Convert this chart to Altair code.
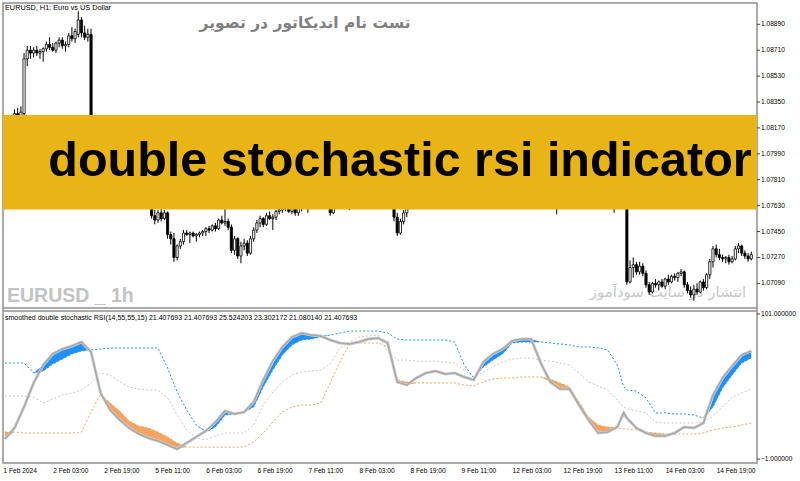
import json
import altair as alt
import pandas as pd
import numpy as np

# ---------------- price candles (EURUSD H1) ----------------
OPEN = [1.0818,1.0820,1.0822,1.0824,1.0827,1.0825,1.0827,1.0865,1.0871,1.0869,
 1.0871,1.0869,1.0870,1.0872,1.0875,1.0873,1.0871,1.0876,1.0878,1.0874,
 1.0875,1.0881,1.0879,1.0882,1.0892,1.0883,1.0880,1.0882,1.0812,1.0810,
 1.0806,1.0803,1.0800,1.0802,1.0799,1.0795,1.0792,1.0794,1.0790,1.0787,
 1.0785,1.0782,1.0780,1.0778,1.0775,1.0772,1.0768,1.0756,1.0753,1.0758,
 1.0754,1.0758,1.0743,1.0740,1.0727,1.0735,1.0738,1.0744,1.0743,1.0744,
 1.0742,1.0743,1.0744,1.0745,1.0747,1.0746,1.0749,1.0747,1.0753,1.0751,
 1.0752,1.0748,1.0732,1.0740,1.0728,1.0735,1.0737,1.0730,1.0740,1.0746,
 1.0751,1.0754,1.0750,1.0756,1.0754,1.0755,1.0759,1.0760,1.0761,1.0762,
 1.0759,1.0761,1.0758,1.0762,1.0764,1.0766,1.0765,1.0768,1.0770,1.0767,
 1.0769,1.0766,1.0764,1.0758,1.0762,1.0766,1.0768,1.0765,1.0767,1.0766,
 1.0769,1.0772,1.0774,1.0773,1.0775,1.0777,1.0774,1.0776,1.0778,1.0775,
 1.0772,1.0768,1.0765,1.0755,1.0744,1.0752,1.0758,1.0762,1.0765,1.0767,
 1.0766,1.0770,1.0772,1.0771,1.0773,1.0775,1.0774,1.0772,1.0774,1.0776,
 1.0775,1.0773,1.0771,1.0770,1.0772,1.0775,1.0779,1.0781,1.0783,1.0782,
 1.0785,1.0787,1.0789,1.0788,1.0791,1.0793,1.0792,1.0794,1.0793,1.0795,
 1.0794,1.0791,1.0788,1.0785,1.0782,1.0780,1.0781,1.0777,1.0774,1.0771,
 1.0772,1.0768,1.0766,1.0764,1.0762,1.0765,1.0763,1.0766,1.0764,1.0765,
 1.0767,1.0765,1.0763,1.0764,1.0766,1.0769,1.0772,1.0770,1.0771,1.0769,
 1.0767,1.0765,1.0763,1.0766,1.0768,1.0766,1.0710,1.0720,1.0722,1.0717,
 1.0721,1.0716,1.0708,1.0703,1.0709,1.0708,1.0710,1.0707,1.0712,1.0710,
 1.0714,1.0713,1.0716,1.0717,1.0708,1.0704,1.0701,1.0705,1.0703,1.0710,
 1.0706,1.0715,1.0724,1.0733,1.0729,1.0727,1.0726,1.0727,1.0724,1.0726,
 1.0733,1.0735,1.0730,1.0728,1.0726]
HIGH = [1.0822,1.0824,1.0825,1.0830,1.0831,1.0832,1.0869,1.0874,1.0874,1.0873,
 1.0874,1.0872,1.0873,1.0877,1.0880,1.0876,1.0877,1.0880,1.0880,1.0877,
 1.0883,1.0887,1.0886,1.0898,1.0894,1.0888,1.0886,1.0886,1.0820,1.0814,
 1.0810,1.0807,1.0805,1.0806,1.0803,1.0799,1.0797,1.0798,1.0794,1.0791,
 1.0789,1.0786,1.0784,1.0782,1.0779,1.0776,1.0770,1.0760,1.0760,1.0761,
 1.0760,1.0759,1.0745,1.0744,1.0736,1.0740,1.0746,1.0746,1.0745,1.0745,
 1.0744,1.0745,1.0746,1.0748,1.0749,1.0750,1.0751,1.0754,1.0756,1.0764,
 1.0754,1.0750,1.0742,1.0741,1.0738,1.0740,1.0739,1.0742,1.0748,1.0753,
 1.0756,1.0755,1.0758,1.0759,1.0757,1.0760,1.0762,1.0763,1.0764,1.0763,
 1.0762,1.0763,1.0763,1.0766,1.0768,1.0769,1.0770,1.0772,1.0774,1.0771,
 1.0772,1.0769,1.0766,1.0763,1.0768,1.0770,1.0772,1.0769,1.0770,1.0771,
 1.0774,1.0776,1.0778,1.0777,1.0779,1.0780,1.0778,1.0780,1.0781,1.0778,
 1.0775,1.0771,1.0767,1.0758,1.0754,1.0760,1.0764,1.0766,1.0769,1.0770,
 1.0771,1.0774,1.0775,1.0774,1.0777,1.0778,1.0777,1.0775,1.0778,1.0779,
 1.0778,1.0776,1.0774,1.0773,1.0776,1.0780,1.0783,1.0785,1.0786,1.0786,
 1.0789,1.0791,1.0792,1.0792,1.0795,1.0796,1.0795,1.0797,1.0796,1.0798,
 1.0797,1.0794,1.0791,1.0788,1.0785,1.0783,1.0783,1.0780,1.0777,1.0774,
 1.0774,1.0771,1.0769,1.0767,1.0766,1.0768,1.0767,1.0769,1.0767,1.0768,
 1.0770,1.0768,1.0766,1.0767,1.0770,1.0773,1.0775,1.0773,1.0774,1.0772,
 1.0770,1.0768,1.0767,1.0770,1.0772,1.0768,1.0725,1.0727,1.0724,1.0724,
 1.0723,1.0718,1.0710,1.0710,1.0712,1.0711,1.0712,1.0713,1.0715,1.0715,
 1.0716,1.0717,1.0719,1.0718,1.0710,1.0707,1.0708,1.0709,1.0711,1.0712,
 1.0716,1.0726,1.0735,1.0736,1.0733,1.0729,1.0728,1.0729,1.0728,1.0735,
 1.0737,1.0736,1.0732,1.0730,1.0731]
LOW = [1.0814,1.0817,1.0819,1.0821,1.0823,1.0822,1.0821,1.0860,1.0865,1.0866,
 1.0867,1.0865,1.0863,1.0870,1.0871,1.0870,1.0869,1.0873,1.0872,1.0870,
 1.0873,1.0877,1.0876,1.0880,1.0880,1.0878,1.0877,1.0810,1.0808,1.0804,
 1.0800,1.0798,1.0796,1.0797,1.0793,1.0790,1.0789,1.0788,1.0785,1.0782,
 1.0780,1.0777,1.0775,1.0773,1.0770,1.0766,1.0754,1.0750,1.0751,1.0752,
 1.0753,1.0740,1.0736,1.0724,1.0725,1.0733,1.0736,1.0742,1.0737,1.0741,
 1.0738,1.0741,1.0742,1.0742,1.0744,1.0745,1.0745,1.0746,1.0750,1.0749,
 1.0746,1.0730,1.0729,1.0726,1.0723,1.0732,1.0728,1.0729,1.0738,1.0744,
 1.0748,1.0748,1.0749,1.0753,1.0746,1.0753,1.0757,1.0758,1.0759,1.0758,
 1.0757,1.0756,1.0756,1.0759,1.0762,1.0758,1.0763,1.0765,1.0766,1.0763,
 1.0764,1.0762,1.0756,1.0757,1.0761,1.0763,1.0764,1.0761,1.0760,1.0764,
 1.0767,1.0769,1.0771,1.0770,1.0772,1.0773,1.0771,1.0773,1.0774,1.0770,
 1.0766,1.0763,1.0752,1.0742,1.0743,1.0750,1.0755,1.0761,1.0763,1.0764,
 1.0765,1.0768,1.0769,1.0768,1.0771,1.0772,1.0770,1.0769,1.0772,1.0773,
 1.0771,1.0770,1.0768,1.0767,1.0770,1.0773,1.0777,1.0779,1.0780,1.0780,
 1.0783,1.0785,1.0786,1.0786,1.0789,1.0790,1.0789,1.0791,1.0790,1.0792,
 1.0790,1.0787,1.0784,1.0781,1.0778,1.0777,1.0776,1.0773,1.0770,1.0768,
 1.0767,1.0765,1.0763,1.0757,1.0761,1.0762,1.0761,1.0763,1.0762,1.0763,
 1.0764,1.0762,1.0761,1.0762,1.0764,1.0767,1.0769,1.0767,1.0768,1.0766,
 1.0764,1.0758,1.0762,1.0764,1.0765,1.0708,1.0709,1.0713,1.0715,1.0715,
 1.0714,1.0706,1.0701,1.0702,1.0706,1.0704,1.0706,1.0705,1.0708,1.0709,
 1.0711,1.0710,1.0714,1.0706,1.0702,1.0699,1.0697,1.0701,1.0702,1.0704,
 1.0705,1.0712,1.0720,1.0727,1.0725,1.0724,1.0723,1.0722,1.0723,1.0725,
 1.0730,1.0728,1.0726,1.0724,1.0725]
CLOSE = [1.0820,1.0822,1.0824,1.0827,1.0825,1.0828,1.0865,1.0871,1.0869,1.0871,
 1.0869,1.0870,1.0872,1.0875,1.0873,1.0871,1.0876,1.0878,1.0874,1.0875,
 1.0881,1.0879,1.0884,1.0892,1.0883,1.0880,1.0882,1.0812,1.0810,1.0806,
 1.0803,1.0800,1.0802,1.0799,1.0795,1.0792,1.0794,1.0790,1.0787,1.0785,
 1.0782,1.0780,1.0778,1.0775,1.0772,1.0768,1.0756,1.0753,1.0758,1.0754,
 1.0758,1.0743,1.0740,1.0727,1.0735,1.0738,1.0744,1.0743,1.0744,1.0742,
 1.0743,1.0744,1.0745,1.0747,1.0746,1.0749,1.0747,1.0753,1.0751,1.0752,
 1.0748,1.0732,1.0740,1.0728,1.0735,1.0737,1.0730,1.0740,1.0746,1.0751,
 1.0754,1.0750,1.0756,1.0754,1.0755,1.0759,1.0760,1.0761,1.0762,1.0759,
 1.0761,1.0758,1.0762,1.0764,1.0766,1.0765,1.0768,1.0770,1.0767,1.0769,
 1.0766,1.0764,1.0758,1.0762,1.0766,1.0768,1.0765,1.0767,1.0766,1.0769,
 1.0772,1.0774,1.0773,1.0775,1.0777,1.0774,1.0776,1.0778,1.0775,1.0772,
 1.0768,1.0765,1.0755,1.0744,1.0752,1.0758,1.0762,1.0765,1.0767,1.0766,
 1.0770,1.0772,1.0771,1.0773,1.0775,1.0774,1.0772,1.0774,1.0776,1.0775,
 1.0773,1.0771,1.0770,1.0772,1.0775,1.0779,1.0781,1.0783,1.0782,1.0785,
 1.0787,1.0789,1.0788,1.0791,1.0793,1.0792,1.0794,1.0793,1.0795,1.0794,
 1.0791,1.0788,1.0785,1.0782,1.0780,1.0781,1.0777,1.0774,1.0771,1.0772,
 1.0768,1.0766,1.0764,1.0762,1.0765,1.0763,1.0766,1.0764,1.0765,1.0767,
 1.0765,1.0763,1.0764,1.0766,1.0769,1.0772,1.0770,1.0771,1.0769,1.0767,
 1.0765,1.0763,1.0766,1.0768,1.0766,1.0710,1.0720,1.0722,1.0717,1.0721,
 1.0716,1.0708,1.0703,1.0709,1.0708,1.0710,1.0707,1.0712,1.0710,1.0714,
 1.0713,1.0716,1.0717,1.0708,1.0704,1.0701,1.0705,1.0703,1.0710,1.0706,
 1.0715,1.0724,1.0733,1.0729,1.0727,1.0726,1.0727,1.0724,1.0726,1.0733,
 1.0735,1.0730,1.0728,1.0726,1.0729]
BAR = list(range(len(CLOSE)))

# ---------------- indicator: smoothed double stochastic RSI ----------------
IND_BAR = [0,3,6,9,12,15,18,21,24,27,30,33,36,39,42,45,48,51,54,57,60,63,66,69,72,75,78,
           81,84,87,90,93,96,99,102,105,108,111,114,117,120,123,126,129,132,135,138,141,
           144,147,150,153,156,159,162,165,168,171,174,177,180,183,186,189,192,194,195,
           198,201,204,207,210,213,216,219,222,225,228,231,234]
MAIN = [13.1,20.8,35.6,52.5,65.1,72.9,76.4,78.5,81.3,74.3,45.4,33.5,26.4,20.8,16.6,13.8,11.7,
        8.9,6.0,10.3,14.5,18.7,25.0,32.8,30.7,32.1,39.1,54.6,67.9,77.8,84.8,87.6,86.2,85.5,
        82.7,80.6,79.9,81.3,83.4,84.1,80.6,53.2,51.1,56.0,59.5,60.9,58.8,59.5,56.7,54.6,67.2,
        72.9,76.4,82.0,83.4,83.4,66.5,53.2,48.2,48.2,37.0,26.4,17.3,18.0,21.5,31.4,27.8,20.8,
        17.3,15.2,15.2,17.3,21.5,20.8,24.3,44.0,56.0,64.4,72.2,75.0]
UPPER = [66.5,66.5,66.5,59.5,60.9,65.8,69.3,72.9,75.0,75.7,76.4,77.1,77.1,77.1,77.1,77.1,77.1,
         63.0,46.1,33.5,22.9,18.0,21.5,30.0,30.7,32.1,35.6,49.7,61.6,72.2,79.2,82.7,83.4,84.8,
         86.2,87.6,89.0,89.0,89.0,89.0,87.6,83.4,82.7,82.7,82.7,82.7,82.7,81.3,65.1,56.0,63.7,
         68.6,72.9,80.6,81.3,81.3,81.3,80.6,79.9,79.2,77.8,77.8,77.1,75.7,65.1,49.7,47.5,46.8,
         41.9,31.4,31.4,30.7,30.7,30.0,27.8,35.6,49.0,58.1,66.5,70.1]
MIDDLE = [43.3,43.3,43.3,42.6,38.4,41.2,44.0,45.4,47.5,52.5,59.5,58.1,53.2,49.7,48.2,47.5,47.5,
          41.9,30.0,19.4,13.8,12.4,15.2,17.3,17.3,17.3,22.9,37.0,46.1,53.2,58.1,60.2,60.9,61.6,
          65.8,77.1,81.3,84.8,85.5,86.2,74.5,68.6,68.6,67.9,67.9,67.9,67.2,66.5,61.6,56.7,60.2,
          63.7,67.2,69.3,70.1,70.1,68.6,67.9,66.5,65.1,59.5,53.2,50.4,47.5,40.5,35.6,34.2,32.8,
          31.4,25.0,24.3,24.3,24.3,24.3,25.0,29.3,35.6,42.6,45.4,48.2]
LOWER = [18.0,18.0,17.3,17.3,17.3,17.3,17.3,17.3,18.0,32.1,44.7,38.4,32.8,25.7,22.2,20.8,18.0,
         14.5,10.3,7.4,7.4,7.4,7.4,7.4,7.4,7.4,11.0,17.3,25.0,32.1,35.6,37.0,37.0,38.4,52.5,67.2,
         79.9,80.6,80.6,80.6,78.0,54.6,53.2,52.5,52.5,52.5,52.5,52.5,51.1,50.4,53.2,55.3,56.0,
         56.0,56.7,56.7,56.7,55.3,52.5,49.7,39.1,28.5,22.9,21.5,20.8,20.1,20.1,19.4,18.0,17.3,
         16.6,16.6,16.6,16.6,17.3,19.4,20.8,21.5,22.9,24.3]

# ---------------- axes / texts ----------------
TIME_TICKS = [-0.6, 15, 31, 47, 63, 79, 95, 111, 127, 143, 159, 175, 191, 207, 223]
TIME_LABELS = ["1 Feb 2024", "2 Feb 03:00", "2 Feb 19:00", "5 Feb 11:00", "6 Feb 03:00",
               "6 Feb 19:00", "7 Feb 11:00", "8 Feb 03:00", "8 Feb 19:00", "9 Feb 11:00",
               "12 Feb 03:00", "12 Feb 19:00", "13 Feb 11:00", "14 Feb 03:00", "14 Feb 19:00"]
PRICE_TICKS = [1.0709, 1.0727, 1.0745, 1.0763, 1.0781, 1.0799, 1.0817, 1.0835, 1.0853, 1.0871, 1.0889]
IND_TICKS = [101, -1]

TITLE_MAIN = "EURUSD, H1:  Euro vs US Dollar"
TITLE_FA = "تست نام اندیکاتور در تصویر"
BANNER = "double stochastic rsi indicator"
WM_LEFT = "EURUSD _ 1h"
WM_RIGHT = "انتشار در سایت سودآموز"
IND_TITLE = ("smoothed double stochastic RSI(14,55,55,15) 21.407693 21.407693 "
             "25.524203 23.302172 21.080140 21.407693")

W = 754          # plot width (both panes)
H = 460          # both panes + gap
TOP_H = 305      # price pane height
IND_Y0 = 308     # indicator pane top inside the view

candles = pd.DataFrame(dict(bar=BAR, open=OPEN, high=HIGH, low=LOW, close=CLOSE))
ind = pd.DataFrame(dict(bar=IND_BAR, main=MAIN, upper=UPPER, middle=MIDDLE, lower=LOWER))
ind["blue_top"] = np.maximum(ind["main"], ind["upper"])
ind["orange_bot"] = np.minimum(ind["main"], ind["lower"])
ptick = pd.DataFrame({"p": PRICE_TICKS})
itick = pd.DataFrame({"v": IND_TICKS})

XS = alt.Scale(domain=[-0.6, 235.8], nice=False, zero=False, padding=0)
PS = alt.Scale(domain=[1.06919, 1.09038], nice=False, zero=False, range=[TOP_H, 0])
IS = alt.Scale(domain=[-3.8, 103.1], nice=False, zero=False, range=[H, IND_Y0])

T_AX = alt.Axis(values=TIME_TICKS, title=None, ticks=False, labelAlign="left", labelPadding=4,
                labelFlush=False, labelOverlap=False, domain=False, grid=False,
                labelExpr=json.dumps(TIME_LABELS) + "[round((datum.value + 1) / 16)]")
X = alt.X("bar:Q", scale=XS, axis=T_AX)


def txt(s, x, y, **kw):
    return alt.Chart(pd.DataFrame({"t": [s]})).mark_text(**kw).encode(
        x=alt.value(x), y=alt.value(y), text="t:N")


def hrule(y, color="#8f8f8f", w=1.5):
    return alt.Chart(pd.DataFrame({"a": [0]})).mark_rule(color=color, strokeWidth=w).encode(
        x=alt.value(0), x2=alt.value(W), y=alt.value(y))


# ----- price pane -----
cb = alt.Chart(candles)
wicks = cb.mark_rule(color="black", strokeWidth=1).encode(
    x=X, y=alt.Y("low:Q", scale=PS, axis=None), y2="high:Q")
bodies = cb.mark_bar(size=2.2, stroke="black", strokeWidth=0.8).encode(
    x=X, y=alt.Y("open:Q", scale=PS, axis=None), y2="close:Q",
    fill=alt.condition("datum.close >= datum.open", alt.value("white"), alt.value("black")))

banner = alt.Chart(pd.DataFrame({"a": [0]})).mark_rect(color="#e9b416").encode(
    x=alt.value(0), x2=alt.value(W), y=alt.value(112), y2=alt.value(206.5))

p_ticks = alt.Chart(ptick).mark_rule(color="#444", strokeWidth=1).encode(
    x=alt.value(W), x2=alt.value(W + 3), y=alt.Y("p:Q", scale=PS, axis=None))
p_labels = alt.Chart(ptick).mark_text(align="left", baseline="middle", font="Liberation Sans",
                                      fontSize=6.6, color="black").encode(
    x=alt.value(W + 4), y=alt.Y("p:Q", scale=PS, axis=None), text=alt.Text("p:Q", format=".5f"))

# ----- indicator pane -----
ib = alt.Chart(ind)


def iline(col, color, width=1.0, dash=None):
    kw = dict(color=color, strokeWidth=width)
    if dash:
        kw["strokeDash"] = dash
    return ib.mark_line(**kw).encode(x=X, y=alt.Y(f"{col}:Q", scale=IS, axis=None))


blue_fill = ib.mark_area(color="#1e90ff", opacity=1).encode(
    x=X, y=alt.Y("blue_top:Q", scale=IS, axis=None), y2="upper:Q")
orange_fill = ib.mark_area(color="#f4a460", opacity=1).encode(
    x=X, y=alt.Y("lower:Q", scale=IS, axis=None), y2="orange_bot:Q")

i_ticks = alt.Chart(itick).mark_rule(color="#444", strokeWidth=1).encode(
    x=alt.value(W), x2=alt.value(W + 3), y=alt.Y("v:Q", scale=IS, axis=None))
i_labels = alt.Chart(itick).mark_text(align="left", baseline="middle", font="Liberation Sans",
                                      fontSize=6.6, color="black").encode(
    x=alt.value(W + 4), y=alt.Y("v:Q", scale=IS, axis=None), text=alt.Text("v:Q", format=".6f"))

chart = alt.layer(
    txt(WM_LEFT, 4, 299, align="left", baseline="alphabetic", font="Liberation Sans",
        fontWeight="bold", fontSize=19.5, color="#c2c2c2"),
    txt(WM_RIGHT, 665, 289, align="center", baseline="middle", font="DejaVu Sans",
        fontSize=15, color="#c8c8c8"),
    txt(TITLE_FA, 302, 20, align="center", baseline="middle", font="DejaVu Sans",
        fontWeight="bold", fontSize=15.5, color="#808080"),
    wicks, bodies, banner,
    txt(BANNER, 397, 158, align="center", baseline="middle", font="Liberation Sans",
        fontWeight="bold", fontSize=48.5, color="black"),
    txt(TITLE_MAIN, 2, 5, align="left", baseline="middle", font="Liberation Sans",
        fontSize=7.3, color="black"),
    p_ticks, p_labels,
    hrule(TOP_H), hrule(IND_Y0),
    iline("middle", "#c8c8c8", 1, [2, 2]),
    iline("upper", "#1e90ff", 1, [2, 2]),
    iline("lower", "#f4a460", 1, [2, 2]),
    blue_fill, orange_fill,
    iline("main", "#cfcfcf", 3.0),
    iline("main", "#a8a8a8", 1.5),
    txt(IND_TITLE, 2, IND_Y0 + 7, align="left", baseline="middle", font="Liberation Sans",
        fontSize=7, color="black"),
    i_ticks, i_labels,
).resolve_scale(y="independent").properties(
    width=W, height=H,
    autosize=alt.AutoSizeParams(type="none"),
    padding={"left": 3, "top": 3, "right": 43, "bottom": 18},
    background="white",
).configure_view(
    stroke="#8f8f8f", strokeWidth=1.5
).configure_axis(
    labelFont="Liberation Sans", labelFontSize=6.6, labelColor="black"
)

chart.save("out.html", embed_options={"renderer": "svg", "actions": False})
